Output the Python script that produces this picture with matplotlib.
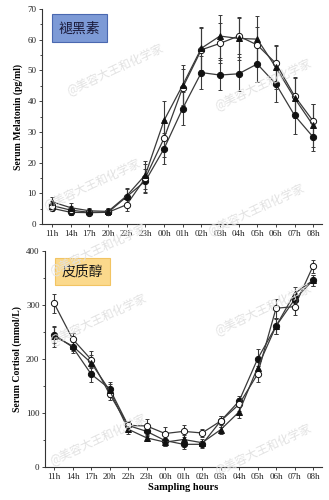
import matplotlib
matplotlib.use("Agg")
import matplotlib.pyplot as plt
import numpy as np

hours = ["11h", "14h", "17h", "20h", "22h", "23h", "00h", "01h", "02h", "03h", "04h", "05h", "06h", "07h", "08h"]

# Melatonin (pg/ml)
mel_tri = [7.2, 5.3, 4.3, 4.1, 9.2, 16.0, 33.7, 45.2, 57.2, 61.2, 60.4, 60.2, 51.0, 41.0, 32.1]
mel_tri_err = [1.5, 1.5, 1.0, 1.0, 2.5, 4.5, 6.5, 6.5, 7.0, 7.0, 7.0, 7.5, 7.0, 6.5, 7.0]
mel_open = [6.0, 4.5, 3.8, 3.8, 6.3, 15.0, 27.9, 44.4, 56.7, 58.8, 61.2, 58.3, 52.3, 41.7, 33.5]
mel_open_err = [1.5, 1.5, 1.0, 1.0, 2.0, 4.5, 6.0, 6.0, 7.0, 6.5, 6.0, 6.0, 6.0, 6.0, 5.5]
mel_fill = [5.1, 3.8, 3.7, 3.8, 8.9, 14.0, 24.5, 37.6, 49.3, 48.5, 48.9, 52.1, 45.6, 35.4, 28.3]
mel_fill_err = [1.0, 1.0, 0.8, 0.8, 2.5, 4.0, 5.0, 5.5, 5.5, 5.0, 5.5, 6.0, 6.0, 6.0, 4.5]

# Cortisol (mmol/L)
cor_open = [303, 237, 199, 135, 77, 76, 62, 66, 63, 85, 116, 172, 294, 297, 372]
cor_open_err = [17, 12, 15, 10, 8, 12, 12, 11, 8, 10, 12, 15, 18, 15, 12]
cor_fill = [245, 222, 172, 145, 77, 66, 49, 42, 42, 85, 122, 200, 261, 310, 346]
cor_fill_err = [15, 10, 14, 12, 8, 8, 10, 8, 6, 10, 10, 18, 14, 12, 10]
cor_tri = [242, 224, 193, 142, 70, 54, 46, 51, 45, 69, 102, 184, 261, 321, 346]
cor_tri_err = [20, 10, 15, 12, 8, 6, 8, 8, 6, 8, 12, 15, 15, 12, 10]

plt.rcParams['font.family'] = ['Liberation Serif', 'DejaVu Serif']
cjk = ['Noto Sans CJK SC', 'DejaVu Sans']

fig = plt.figure(figsize=(3.29, 5.0), dpi=100)
x = np.arange(len(hours))
lc = '#3a3a3a'

def series(ax, y, e, marker, filled):
    ax.errorbar(x, y, yerr=e, color=lc, lw=0.9, elinewidth=0.8, capsize=1.5, capthick=0.7,
                marker=marker, markersize=4.5,
                markerfacecolor=('#111111' if filled else 'white'),
                markeredgecolor='#111111', markeredgewidth=0.7, zorder=3)

def style(ax):
    for s in ['top', 'right']:
        ax.spines[s].set_visible(False)
    for s in ['left', 'bottom']:
        ax.spines[s].set_color('#333333')
        ax.spines[s].set_linewidth(0.8)
    ax.set_xticks(x)
    ax.set_xticklabels(hours)
    ax.tick_params(axis='both', labelsize=6.5, direction='out', length=2.5, width=0.6, colors='#222222', pad=1.5)
    ax.tick_params(axis='y', which='minor', length=1.5, width=0.5)
    ax.patch.set_alpha(0)

ax1 = fig.add_axes([0.128, 0.552, 0.851, 0.430])
series(ax1, mel_fill, mel_fill_err, 'o', True)
series(ax1, mel_open, mel_open_err, 'o', False)
series(ax1, mel_tri, mel_tri_err, '^', True)
ax1.set_xlim(-0.54, 14.48)
ax1.set_ylim(0, 70)
ax1.set_yticks(np.arange(0, 71, 10))
ax1.set_yticks(np.arange(5, 70, 10), minor=True)
style(ax1)
ax1.set_ylabel("Serum Melatonin (pg/ml)", fontsize=7, fontweight='bold', labelpad=3)
ax1.text(0.06, 0.91, "褪黑素", transform=ax1.transAxes, family=cjk, fontsize=10, color='#1a1a3a',
         ha='left', va='center',
         bbox=dict(boxstyle='square,pad=0.5', facecolor='#7d9ad6', edgecolor='#4a68b0', linewidth=0.8))

ax2 = fig.add_axes([0.137, 0.066, 0.842, 0.432])
series(ax2, cor_fill, cor_fill_err, 'o', True)
series(ax2, cor_open, cor_open_err, 'o', False)
series(ax2, cor_tri, cor_tri_err, '^', True)
ax2.set_xlim(-0.49, 14.49)
ax2.set_ylim(0, 400)
ax2.set_yticks(np.arange(0, 401, 100))
ax2.set_yticks(np.arange(50, 400, 100), minor=True)
style(ax2)
ax2.set_ylabel("Serum Cortisol (mmol/L)", fontsize=7, fontweight='bold', labelpad=3)
ax2.set_xlabel("Sampling hours", fontsize=7.5, fontweight='bold', labelpad=2)
ax2.text(0.06, 0.905, "皮质醇", transform=ax2.transAxes, family=cjk, fontsize=10, color='#1a1a1a',
         ha='left', va='center',
         bbox=dict(boxstyle='square,pad=0.5', facecolor='#fbd98c', edgecolor='#f2c462', linewidth=0.8))

# faint watermarks
wm = "@美容大王和化学家"
for (wx, wy) in [(0.35, 0.86), (0.28, 0.63), (0.8, 0.83), (0.78, 0.58), (0.3, 0.36), (0.8, 0.38), (0.3, 0.12), (0.8, 0.1), (0.3, 0.5)]:
    fig.text(wx, wy, wm, family=cjk, fontsize=8.5, color='#e2e2e2', rotation=25, ha='center', va='center', zorder=0)

fig.savefig("out.png", dpi=100)
